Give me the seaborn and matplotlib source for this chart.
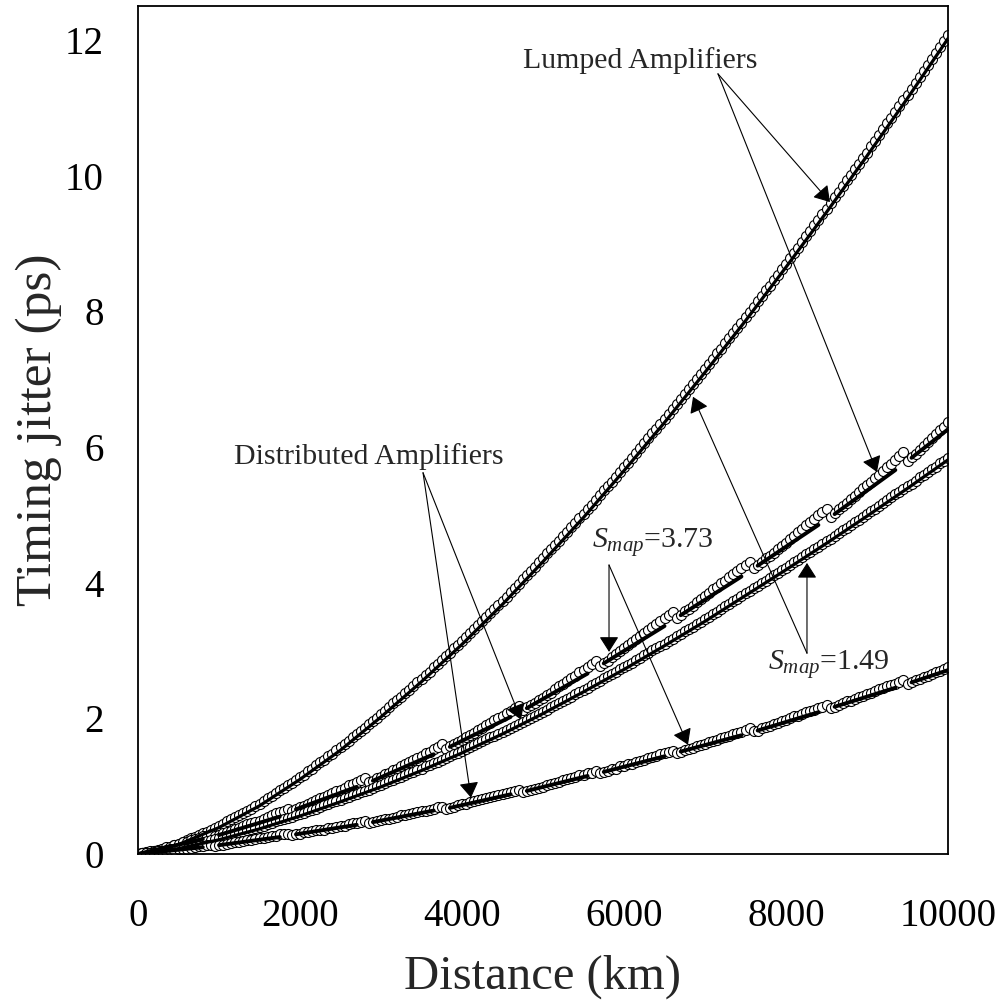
import numpy as np
import pandas as pd
import matplotlib
matplotlib.use("Agg")
import matplotlib.pyplot as plt
import seaborn as sns

# ---------------- data ----------------
DIST_STEP_KM = 50
distance_km = np.arange(0, 10001, DIST_STEP_KM)

# simulated points (open circles), one value every 50 km
lumped_s149_pts = [
    0, 0.01, 0.02, 0.03, 0.04, 0.05, 0.07, 0.09, 0.11, 0.13,
    0.15, 0.18, 0.20, 0.23, 0.25, 0.28, 0.31, 0.33, 0.36, 0.38,
    0.41, 0.44, 0.48, 0.51, 0.54, 0.58, 0.61, 0.64, 0.67, 0.71,
    0.74, 0.78, 0.82, 0.86, 0.90, 0.94, 0.97, 1.01, 1.05, 1.09,
    1.13, 1.17, 1.22, 1.26, 1.31, 1.35, 1.39, 1.44, 1.48, 1.53,
    1.57, 1.62, 1.67, 1.72, 1.77, 1.82, 1.86, 1.91, 1.96, 2.01,
    2.06, 2.11, 2.16, 2.22, 2.27, 2.32, 2.37, 2.42, 2.48, 2.53,
    2.58, 2.64, 2.69, 2.75, 2.80, 2.86, 2.92, 2.97, 3.03, 3.08,
    3.14, 3.20, 3.26, 3.32, 3.38, 3.44, 3.49, 3.55, 3.61, 3.67,
    3.73, 3.79, 3.86, 3.92, 3.98, 4.05, 4.11, 4.17, 4.23, 4.30,
    4.36, 4.43, 4.49, 4.56, 4.62, 4.69, 4.75, 4.82, 4.88, 4.95,
    5.01, 5.08, 5.15, 5.22, 5.29, 5.36, 5.42, 5.49, 5.56, 5.63,
    5.70, 5.77, 5.84, 5.91, 5.98, 6.06, 6.13, 6.20, 6.27, 6.34,
    6.41, 6.48, 6.56, 6.63, 6.71, 6.78, 6.85, 6.93, 7.00, 7.08,
    7.15, 7.23, 7.30, 7.38, 7.45, 7.53, 7.61, 7.68, 7.76, 7.83,
    7.91, 7.99, 8.07, 8.15, 8.23, 8.31, 8.38, 8.46, 8.54, 8.62,
    8.70, 8.78, 8.86, 8.94, 9.02, 9.11, 9.19, 9.27, 9.35, 9.43,
    9.51, 9.59, 9.68, 9.76, 9.84, 9.93, 10.01, 10.09, 10.17, 10.26,
    10.34, 10.43, 10.51, 10.60, 10.68, 10.77, 10.85, 10.94, 11.02, 11.11,
    11.19, 11.28, 11.37, 11.45, 11.54, 11.63, 11.72, 11.81, 11.89, 11.98,
    12.07]

lumped_s373_pts = [
    0, 0.01, 0.03, 0.04, 0.05, 0.06, 0.08, 0.10, 0.11, 0.13, 0.15, 0.17, 0.18, 0.20, 0.22, 0.24, 0.26, 0.27, 0.30,
    0.26, 0.28, 0.31, 0.33, 0.34, 0.37, 0.39, 0.41, 0.44, 0.45, 0.47, 0.49, 0.52, 0.54, 0.57, 0.60, 0.62, 0.64, 0.67,
    0.64, 0.66, 0.69, 0.71, 0.74, 0.77, 0.80, 0.82, 0.84, 0.87, 0.90, 0.93, 0.95, 0.97, 1.01, 1.03, 1.06, 1.09, 1.12,
    1.06, 1.08, 1.12, 1.14, 1.18, 1.20, 1.24, 1.26, 1.30, 1.33, 1.36, 1.39, 1.42, 1.45, 1.49, 1.51, 1.55, 1.58, 1.62,
    1.55, 1.59, 1.62, 1.65, 1.68, 1.72, 1.75, 1.79, 1.83, 1.86, 1.90, 1.93, 1.97, 2.01, 2.04, 2.08, 2.11, 2.15, 2.18,
    2.12, 2.16, 2.19, 2.23, 2.27, 2.30, 2.35, 2.38, 2.43, 2.47, 2.51, 2.55, 2.60, 2.63, 2.68, 2.71, 2.76, 2.80, 2.84,
    2.77, 2.82, 2.85, 2.90, 2.95, 2.99, 3.03, 3.08, 3.12, 3.17, 3.21, 3.26, 3.30, 3.35, 3.39, 3.43, 3.48, 3.53, 3.57,
    3.48, 3.53, 3.58, 3.61, 3.66, 3.71, 3.76, 3.81, 3.85, 3.90, 3.94, 3.99, 4.03, 4.08, 4.13, 4.17, 4.22, 4.26, 4.31,
    4.21, 4.26, 4.31, 4.36, 4.40, 4.44, 4.49, 4.54, 4.59, 4.64, 4.69, 4.74, 4.79, 4.85, 4.90, 4.94, 4.99, 5.04, 5.09,
    4.97, 5.02, 5.08, 5.13, 5.18, 5.23, 5.28, 5.34, 5.39, 5.44, 5.48, 5.54, 5.59, 5.65, 5.70, 5.75, 5.81, 5.86, 5.92,
    5.79, 5.85, 5.90, 5.96, 6.02, 6.08, 6.13, 6.19, 6.25, 6.30, 6.37]

distrib_s149_pts = [
    0, 0.01, 0.01, 0.02, 0.03, 0.04, 0.05, 0.06, 0.07, 0.08,
    0.09, 0.10, 0.12, 0.13, 0.15, 0.16, 0.17, 0.19, 0.20, 0.22,
    0.23, 0.25, 0.26, 0.28, 0.30, 0.32, 0.33, 0.35, 0.37, 0.38,
    0.40, 0.42, 0.44, 0.46, 0.48, 0.50, 0.51, 0.53, 0.55, 0.57,
    0.59, 0.61, 0.63, 0.65, 0.67, 0.70, 0.72, 0.74, 0.76, 0.78,
    0.80, 0.82, 0.84, 0.87, 0.89, 0.91, 0.93, 0.95, 0.98, 1.00,
    1.02, 1.04, 1.07, 1.09, 1.12, 1.14, 1.16, 1.19, 1.21, 1.24,
    1.26, 1.29, 1.31, 1.34, 1.36, 1.39, 1.42, 1.44, 1.47, 1.49,
    1.52, 1.55, 1.58, 1.60, 1.63, 1.66, 1.69, 1.72, 1.74, 1.77,
    1.80, 1.83, 1.86, 1.89, 1.92, 1.95, 1.98, 2.01, 2.04, 2.07,
    2.10, 2.13, 2.16, 2.20, 2.23, 2.26, 2.29, 2.32, 2.36, 2.39,
    2.42, 2.45, 2.49, 2.52, 2.55, 2.59, 2.62, 2.65, 2.68, 2.72,
    2.75, 2.79, 2.82, 2.86, 2.89, 2.93, 2.96, 3.00, 3.03, 3.07,
    3.10, 3.14, 3.17, 3.21, 3.24, 3.28, 3.32, 3.35, 3.39, 3.42,
    3.46, 3.50, 3.54, 3.57, 3.61, 3.65, 3.69, 3.73, 3.76, 3.80,
    3.84, 3.88, 3.92, 3.95, 3.99, 4.03, 4.07, 4.11, 4.14, 4.18,
    4.22, 4.26, 4.30, 4.34, 4.38, 4.42, 4.45, 4.49, 4.53, 4.57,
    4.61, 4.65, 4.69, 4.73, 4.77, 4.81, 4.85, 4.89, 4.93, 4.97,
    5.01, 5.05, 5.09, 5.13, 5.17, 5.22, 5.26, 5.30, 5.34, 5.38,
    5.42, 5.46, 5.50, 5.55, 5.59, 5.63, 5.67, 5.71, 5.76, 5.80,
    5.84]

distrib_s373_pts = [
    0, 0.01, 0.01, 0.02, 0.02, 0.04, 0.05, 0.05, 0.06, 0.06, 0.07, 0.08, 0.08, 0.09, 0.10, 0.12, 0.12, 0.13, 0.14,
    0.12, 0.13, 0.14, 0.15, 0.16, 0.17, 0.18, 0.19, 0.20, 0.20, 0.22, 0.23, 0.24, 0.25, 0.26, 0.27, 0.29, 0.29, 0.30,
    0.28, 0.29, 0.30, 0.32, 0.33, 0.34, 0.35, 0.36, 0.36, 0.38, 0.39, 0.40, 0.41, 0.42, 0.44, 0.45, 0.46, 0.47, 0.48,
    0.46, 0.47, 0.48, 0.50, 0.51, 0.52, 0.53, 0.54, 0.57, 0.58, 0.59, 0.60, 0.62, 0.63, 0.64, 0.65, 0.67, 0.69, 0.70,
    0.67, 0.68, 0.70, 0.72, 0.73, 0.74, 0.76, 0.78, 0.79, 0.81, 0.82, 0.84, 0.85, 0.87, 0.88, 0.90, 0.92, 0.93, 0.94,
    0.92, 0.93, 0.95, 0.96, 0.98, 0.99, 1.02, 1.03, 1.05, 1.06, 1.09, 1.10, 1.12, 1.13, 1.16, 1.17, 1.19, 1.20, 1.23,
    1.19, 1.21, 1.23, 1.25, 1.26, 1.29, 1.30, 1.32, 1.33, 1.36, 1.37, 1.39, 1.42, 1.43, 1.45, 1.47, 1.49, 1.51, 1.52,
    1.49, 1.50, 1.53, 1.55, 1.56, 1.59, 1.60, 1.62, 1.65, 1.66, 1.68, 1.71, 1.73, 1.74, 1.77, 1.79, 1.80, 1.83, 1.85,
    1.81, 1.82, 1.85, 1.87, 1.89, 1.92, 1.93, 1.96, 1.98, 2.00, 2.03, 2.04, 2.06, 2.09, 2.11, 2.13, 2.15, 2.17, 2.19,
    2.15, 2.17, 2.20, 2.22, 2.25, 2.26, 2.28, 2.31, 2.33, 2.36, 2.38, 2.40, 2.43, 2.45, 2.47, 2.49, 2.51, 2.54, 2.56,
    2.51, 2.53, 2.56, 2.58, 2.61, 2.63, 2.66, 2.68, 2.70, 2.73, 2.75]

# smooth theory curves (solid lines), one value every 500 km
line_km = [0, 500, 1000, 1500, 2000, 2500, 3000, 3500, 4000, 4500, 5000,
           5500, 6000, 6500, 7000, 7500, 8000, 8500, 9000, 9500, 10000]
lumped_s149_line = [0, 0.14, 0.39, 0.71, 1.10, 1.53, 2.02, 2.54, 3.09, 3.68, 4.31,
                    4.96, 5.65, 6.36, 7.10, 7.86, 8.65, 9.46, 10.29, 11.14, 12.02]
distrib_s149_line = [0, 0.08, 0.21, 0.37, 0.56, 0.77, 0.99, 1.23, 1.49, 1.77, 2.07,
                     2.39, 2.72, 3.07, 3.43, 3.81, 4.19, 4.58, 4.98, 5.39, 5.81]

# segmented theory curves for S_map = 3.73 (one segment per map period)
seg_start_km = [0, 1000, 1950, 2900, 3850, 4800, 5750, 6700, 7650, 8600, 9550]
seg_end_km = [800, 1750, 2700, 3650, 4600, 5550, 6500, 7450, 8400, 9350, 10000]
lumped_s373_seg_start = [0, 0.28, 0.66, 1.08, 1.58, 2.15, 2.81, 3.52, 4.25, 5.01, 5.84]
lumped_s373_seg_end = [0.22, 0.55, 0.99, 1.47, 2.02, 2.66, 3.36, 4.09, 4.85, 5.66, 6.26]
distrib_s373_seg_start = [0, 0.13, 0.29, 0.47, 0.68, 0.93, 1.21, 1.51, 1.82, 2.17, 2.53]
distrib_s373_seg_end = [0.10, 0.25, 0.43, 0.64, 0.88, 1.15, 1.44, 1.75, 2.09, 2.45, 2.71]

x_ticks = [0, 2000, 4000, 6000, 8000, 10000]
y_ticks = [0, 2, 4, 6, 8, 10, 12]

# ---------------- styling ----------------
sns.set_theme(style="white")
plt.rcParams["font.family"] = ["Liberation Serif", "DejaVu Serif"]
plt.rcParams["mathtext.fontset"] = "custom"
plt.rcParams["mathtext.rm"] = "Liberation Serif"
plt.rcParams["mathtext.it"] = "Liberation Serif:italic"

fig = plt.figure(figsize=(10.07, 10.05), dpi=100)
ax = fig.add_axes([138 / 1007, 1 - 854 / 1005, 810 / 1007, 848 / 1005])

# circles
pts = pd.DataFrame({
    "km": np.concatenate([distance_km] * 4),
    "jitter": np.concatenate([lumped_s149_pts, lumped_s373_pts,
                              distrib_s149_pts, distrib_s373_pts]),
})
sns.scatterplot(data=pts, x="km", y="jitter", ax=ax, color="white",
                edgecolor="black", s=52, linewidth=0.8, zorder=2, legend=False)

# smooth lines
smooth = pd.DataFrame({
    "km": line_km * 2,
    "jitter": lumped_s149_line + distrib_s149_line,
    "curve": ["lumped"] * len(line_km) + ["distrib"] * len(line_km),
})
sns.lineplot(data=smooth, x="km", y="jitter", units="curve", estimator=None,
             color="black", lw=2.3, ax=ax, zorder=3, legend=False, sort=False)

# segmented lines
rows = []
for name, ys, ye in [("L", lumped_s373_seg_start, lumped_s373_seg_end),
                     ("D", distrib_s373_seg_start, distrib_s373_seg_end)]:
    for i, (xs, xe, a, b) in enumerate(zip(seg_start_km, seg_end_km, ys, ye)):
        rows.append({"seg": f"{name}{i}", "km": xs, "jitter": a})
        rows.append({"seg": f"{name}{i}", "km": xe, "jitter": b})
segs = pd.DataFrame(rows)
sns.lineplot(data=segs, x="km", y="jitter", units="seg", estimator=None,
             color="black", lw=2.8, ax=ax, zorder=3, legend=False, sort=False)

# axes
ax.set_xlim(0, 10000)
ax.set_ylim(0, 12.5)
ax.set_xticks(x_ticks)
ax.set_yticks(y_ticks)
ax.set_xticklabels([str(v) for v in x_ticks])
ax.set_yticklabels([str(v) for v in y_ticks])
ax.tick_params(axis="both", direction="out", length=10.5, width=0.8,
               color="#444444", labelsize=28, labelcolor="black")
ax.tick_params(axis="x", pad=21)
ax.tick_params(axis="y", pad=14)
for sp in ax.spines.values():
    sp.set_color("black")
    sp.set_linewidth(1.3)
ax.set_xlabel("Distance (km)", fontsize=35, labelpad=14)
ax.set_ylabel("Timing jitter (ps)", fontsize=37, labelpad=2)
ax.grid(False)

# annotations
arrow_kw = dict(arrowstyle="-|>,head_length=0.47,head_width=0.3", color="black",
                lw=0.8, mutation_scale=20, shrinkA=0, shrinkB=0)


def arrows(origin, tips):
    for tip in tips:
        ax.annotate("", xy=tip, xytext=origin, arrowprops=arrow_kw, zorder=4)


ax.text(6198, 11.59, "Lumped Amplifiers", ha="center", va="baseline", fontsize=21.5)
arrows((7160, 11.50), [(8543, 9.61), (9123, 5.63)])

ax.text(2852, 5.75, "Distributed Amplifiers", ha="center", va="baseline", fontsize=21.5)
arrows((3519, 5.62), [(4111, 0.83), (4728, 1.98)])

ax.text(5605, 4.51, r"$S_{map}$=3.73", ha="left", va="baseline", fontsize=21.5)
arrows((5815, 4.26), [(5815, 2.98), (6790, 1.61)])

ax.text(7778, 2.71, r"$S_{map}$=1.49", ha="left", va="baseline", fontsize=21.5)
arrows((8259, 2.96), [(8259, 4.29), (6852, 6.74)])

fig.savefig("out.png", dpi=100, facecolor="white")
